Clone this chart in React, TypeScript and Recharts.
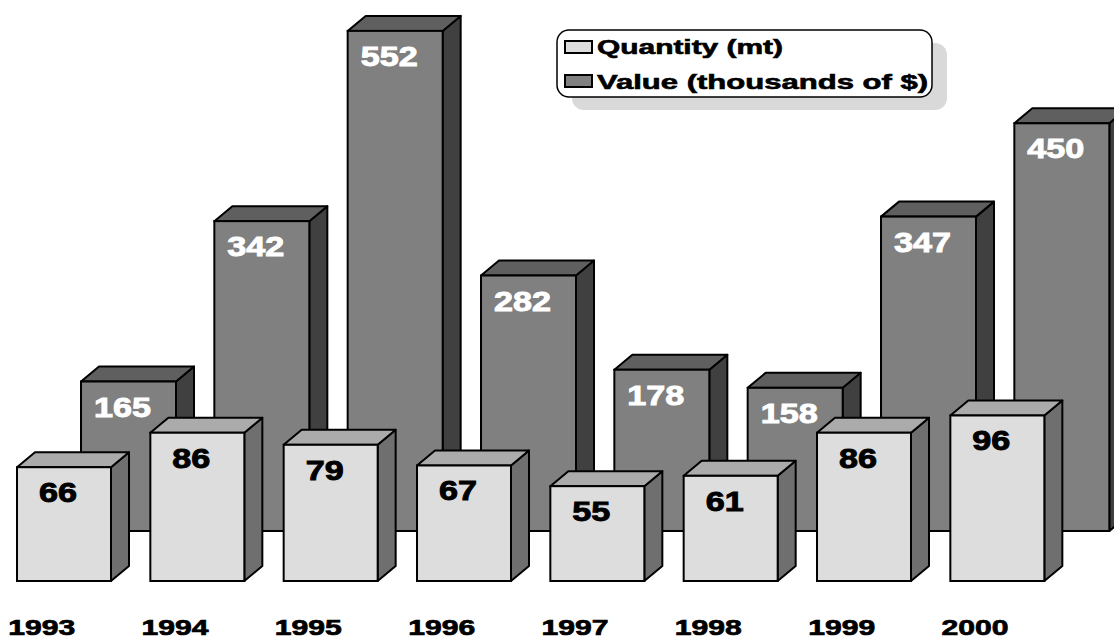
import { BarChart, Bar, XAxis, YAxis, Legend } from 'recharts'

// ── Data ──────────────────────────────────────────────────────────────────────

const years = ['1993', '1994', '1995', '1996', '1997', '1998', '1999', '2000']
const quantity = [66, 86, 79, 67, 55, 61, 86, 96]
const value = [165, 342, 552, 282, 178, 158, 347, 450]

const seriesLabels = ['Quantity (mt)', 'Value (thousands of $)']

const data = years.map((year, i) => ({ year, quantity: quantity[i], value: value[i] }))

// ── Look ──────────────────────────────────────────────────────────────────────

const FONT = 'Arial, "Liberation Sans", Helvetica, sans-serif'
const DEPTH_X = 18
const DEPTH_Y = 15

const QTY = { front: '#dddddd', top: '#ababab', side: '#6f6f6f', text: '#000000' }
const VAL = { front: '#808080', top: '#5f5f5f', side: '#404040', text: '#ffffff' }

// ── 3D box shape ──────────────────────────────────────────────────────────────

function makeBox(key: 'quantity' | 'value', faces: typeof QTY) {
  return function Box(props: any) {
    const { x, y, width: w, height: h, payload } = props
    if (h == null || isNaN(h)) return null
    const label = String(payload[key])
    const top = `${x},${y} ${x + DEPTH_X},${y - DEPTH_Y} ${x + w + DEPTH_X},${y - DEPTH_Y} ${x + w},${y}`
    const side = `${x + w},${y} ${x + w + DEPTH_X},${y - DEPTH_Y} ${x + w + DEPTH_X},${y + h - DEPTH_Y} ${x + w},${y + h}`
    return (
      <g>
        <polygon points={side} fill={faces.side} stroke="#000" strokeWidth={2} strokeLinejoin="round" />
        <polygon points={top} fill={faces.top} stroke="#000" strokeWidth={2} strokeLinejoin="round" />
        <rect x={x} y={y} width={w} height={h} fill={faces.front} stroke="#000" strokeWidth={2} />
        <text
          x={x + w / 2 - 6}
          y={y + 35}
          textAnchor="middle"
          fontFamily={FONT}
          fontWeight="bold"
          fontSize={27}
          fill={faces.text}
          stroke={faces.text}
          strokeWidth={0.9}
          textLength={label.length * 19}
          lengthAdjust="spacingAndGlyphs"
        >
          {label}
        </text>
      </g>
    )
  }
}

const QtyBox = makeBox('quantity', QTY)
const ValBox = makeBox('value', VAL)

// ── Axis ticks & legend ───────────────────────────────────────────────────────

function YearTick({ x, payload }: any) {
  return (
    <text
      x={x - 54}
      y={635}
      textAnchor="middle"
      fontFamily={FONT}
      fontWeight="bold"
      fontSize={22}
      fill="#000"
      stroke="#000"
      strokeWidth={0.7}
      textLength={67}
      lengthAdjust="spacingAndGlyphs"
    >
      {payload.value}
    </text>
  )
}

function LegendBox() {
  const swatches = [QTY.front, VAL.front]
  const widths = [186, 331]
  return (
    <svg width={400} height={90} style={{ display: 'block' }}>
      <rect x={17} y={15} width={375} height={67} rx={12} fill="#d9d9d9" />
      <rect x={2} y={2} width={375} height={67} rx={12} fill="#fff" stroke="#000" strokeWidth={1.5} />
      {seriesLabels.map((name, i) => (
        <g key={name}>
          <rect x={10} y={13 + i * 34} width={27} height={12} fill={swatches[i]} stroke="#000" strokeWidth={2} />
          <text
            x={42}
            y={26 + i * 35}
            fontFamily={FONT}
            fontWeight="bold"
            fontSize={20}
            fill="#000"
            stroke="#000"
            strokeWidth={0.6}
            textLength={widths[i]}
            lengthAdjust="spacingAndGlyphs"
          >
            {name}
          </text>
        </g>
      ))}
    </svg>
  )
}

// ── Chart ─────────────────────────────────────────────────────────────────────

export default function App() {
  return (
    <div style={{ position: 'absolute', left: 0, top: 0, background: '#fff' }}>
      <BarChart
        width={1114}
        height={639}
        data={data}
        margin={{ top: 0, right: 18.33, left: 29, bottom: 0 }}
        barGap={-159}
      >
        <XAxis
          dataKey="year"
          height={58}
          axisLine={false}
          tickLine={false}
          interval={0}
          tick={<YearTick />}
        />
        <YAxis yAxisId="q" hide domain={[0, 337]} />
        <YAxis yAxisId="v" hide domain={[-55.2, 586.1]} />
        <Legend
          layout="horizontal"
          verticalAlign="middle"
          align="center"
          wrapperStyle={{ left: 555, top: 28, width: 400, height: 90 }}
          content={<LegendBox />}
        />
        <Bar dataKey="value" yAxisId="v" barSize={95} shape={<ValBox />} isAnimationActive={false} />
        <Bar dataKey="quantity" yAxisId="q" barSize={94} shape={<QtyBox />} isAnimationActive={false} />
      </BarChart>
    </div>
  )
}
